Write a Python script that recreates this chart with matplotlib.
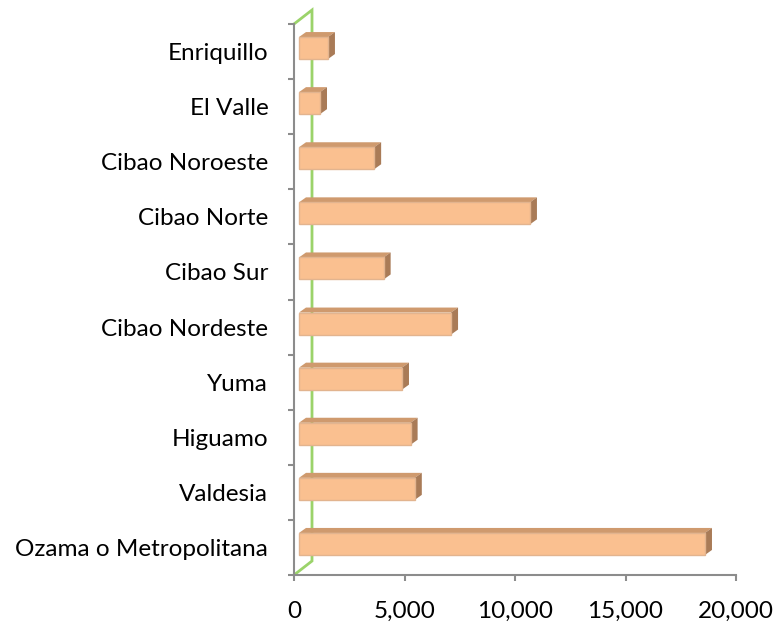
import numpy as np
import matplotlib
matplotlib.use('Agg')
from matplotlib import pyplot as plt
from matplotlib.patches import Polygon
from matplotlib.ticker import FuncFormatter

regiones = ['Ozama o Metropolitana', 'Valdesia', 'Higuamo', 'Yuma', 'Cibao Nordeste',
            'Cibao Sur', 'Cibao Norte', 'Cibao Noroeste', 'El Valle', 'Enriquillo']
valores = [18370, 5240, 5050, 4660, 6880, 3830, 10450, 3400, 950, 1310]
xticks = [0, 5000, 10000, 15000, 20000]

plt.rcParams['font.family'] = ['Lato', 'DejaVu Sans']

front = '#fac090'
top_c = '#cf9a6e'
side_c = '#a97b57'
edge_c = '#e2b48f'

fig = plt.figure(figsize=(7.76, 6.26), dpi=100)
ax = fig.add_axes([294 / 776, 51 / 626, 442 / 776, 551 / 626])
ax.set_xlim(0, 20000)
ax.set_ylim(-0.5, len(regiones) - 0.5)

# pixel -> data conversion for the fake 3d depth
px_x = 20000 / 442.0
px_y = len(regiones) / 551.0
shift_x, shift_y = 5 * px_x, 3.5 * px_y
dep_x, dep_y = 7 * px_x, 5 * px_y
h = 22 * px_y

# side wall (green)
wall_x, wall_y = 18 * px_x, 14 * px_y
y0, y1 = -0.5, len(regiones) - 0.5
ax.plot([0, wall_x, wall_x, 0], [y0, y0 + wall_y, y1 + wall_y, y1], color='#9bd36a',
        lw=2, clip_on=False, zorder=1, solid_joinstyle='miter')

pos = np.arange(len(regiones))
for y, v in zip(pos, valores):
    x0 = shift_x
    x1 = shift_x + v
    yb = y - h / 2 + shift_y
    yt = y + h / 2 + shift_y
    ax.add_patch(Polygon([[x0, yt], [x0 + dep_x, yt + dep_y], [x1 + dep_x, yt + dep_y], [x1, yt]],
                         closed=True, fc=top_c, ec='none', zorder=3))
    ax.add_patch(Polygon([[x1, yb], [x1, yt], [x1 + dep_x, yt + dep_y], [x1 + dep_x, yb + dep_y]],
                         closed=True, fc=side_c, ec='none', zorder=3))
ax.barh(pos + shift_y, valores, left=shift_x, height=h, color=front, edgecolor=edge_c,
        linewidth=1, zorder=4)

for s in ['top', 'right']:
    ax.spines[s].set_visible(False)
for s in ['left', 'bottom']:
    ax.spines[s].set_color('#8c8c8c')
    ax.spines[s].set_linewidth(1.5)

ax.set_yticks(np.arange(-0.5, len(regiones), 1))
ax.set_yticklabels([])
ax.set_yticks(pos, minor=True)
ax.set_yticklabels(regiones, minor=True, fontsize=17.5, color='#000000')
ax.tick_params(axis='y', which='major', length=4.5, width=1.5, color='#8c8c8c', direction='out')
ax.tick_params(axis='y', which='minor', length=0, pad=18.5)

ax.set_xticks(xticks)
ax.xaxis.set_major_formatter(FuncFormatter(lambda v, p: f'{int(v):,}'))
ax.tick_params(axis='x', length=4.5, width=1.5, color='#8c8c8c', direction='out', labelsize=17.5, pad=14)

fig.savefig('out.png', dpi=100)
